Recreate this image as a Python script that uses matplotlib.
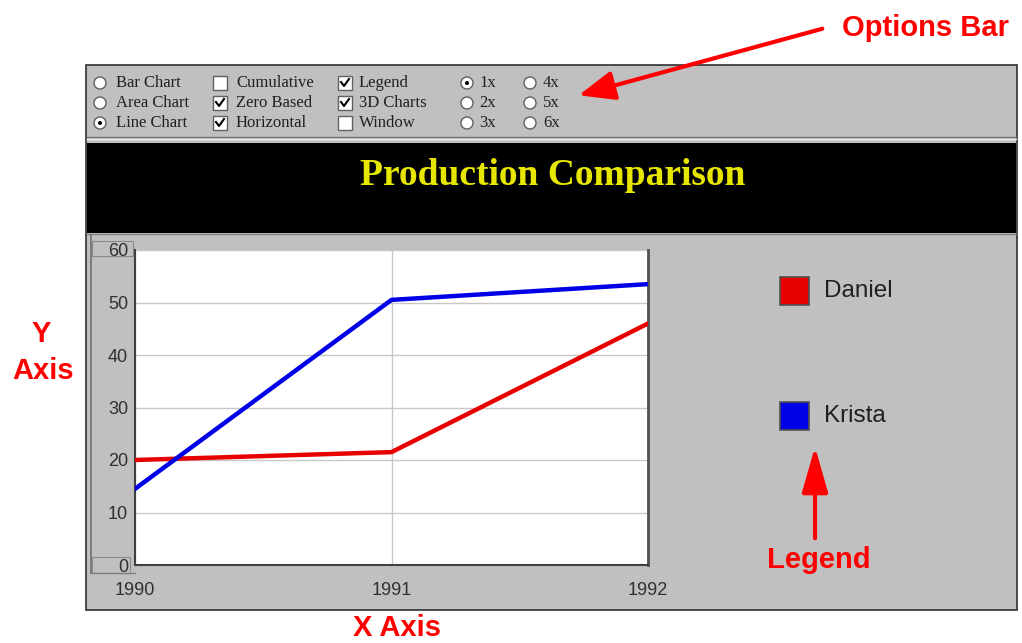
import matplotlib
matplotlib.use("Agg")
import matplotlib.pyplot as plt
from matplotlib.patches import Rectangle, Circle, FancyArrowPatch

# data
years = [1990, 1991, 1992]
daniel = [20, 21.5, 46]
krista = [14.5, 50.5, 53.5]
series_names = ["Daniel", "Krista"]
series_colors = ["#e80000", "#0000e8"]
y_ticks = [0, 10, 20, 30, 40, 50, 60]

# options bar
opt_col1 = ["Bar Chart", "Area Chart", "Line Chart"]
opt_col2 = ["Cumulative", "Zero Based", "Horizontal"]
opt_col3 = ["Legend", "3D Charts", "Window"]
opt_col4 = ["1x", "2x", "3x"]
opt_col5 = ["4x", "5x", "6x"]
col1_on = [False, False, True]
col2_on = [False, True, True]
col3_on = [True, True, False]
col4_on = [True, False, False]
col5_on = [False, False, False]

W, H = 1022, 643
GREY = "#c0c0c0"
fig = plt.figure(figsize=(W / 100, H / 100), dpi=100, facecolor="white")

# background layer in pixel coords (y down)
bg = fig.add_axes([0, 0, 1, 1])
bg.set_xlim(0, W)
bg.set_ylim(H, 0)
bg.axis("off")

bg.add_patch(Rectangle((86, 65), 931, 545, facecolor=GREY, edgecolor="#303030", lw=1.2))
bg.plot([87, 1016], [137, 137], color="#707070", lw=1)
bg.plot([87, 1016], [139, 139], color="#f0f0f0", lw=1)
bg.add_patch(Rectangle((87, 143), 929, 90, facecolor="black", edgecolor="none"))
bg.plot([87, 1016], [234, 234], color="#808080", lw=1)
bg.text(553, 185, "Production Comparison", color="#e6e600", fontsize=27,
        fontweight="bold", family="Liberation Serif", ha="center", va="baseline")


def radio(x, y, on):
    bg.add_patch(Circle((x, y), 6, facecolor="white", edgecolor="#606060", lw=1))
    if on:
        bg.add_patch(Circle((x, y), 2, facecolor="black", edgecolor="none"))


def check(x, y, on):
    bg.add_patch(Rectangle((x - 7, y - 7), 14, 14, facecolor="white", edgecolor="#606060", lw=1))
    if on:
        bg.plot([x - 4, x - 1, x + 4], [y - 1, y + 3, y - 4], color="black", lw=1.5)


rows_y = [83, 103, 123]
cols = [(opt_col1, col1_on, radio, 100, 116),
        (opt_col2, col2_on, check, 220, 236),
        (opt_col3, col3_on, check, 345, 359),
        (opt_col4, col4_on, radio, 467, 479),
        (opt_col5, col5_on, radio, 530, 543)]
for labels, states, widget, wx, tx in cols:
    for lab, on, y in zip(labels, states, rows_y):
        widget(wx, y, on)
        bg.text(tx, y, lab, fontsize=12, family="Liberation Serif", color="#202020",
                ha="left", va="center")

# 3D wall bits on the left of the plot
bg.plot([91, 91], [236, 573], color="#707070", lw=1.2)
bg.plot([91, 135], [573, 573], color="#808080", lw=1)
bg.add_patch(Rectangle((92, 241), 41, 15, facecolor="none", edgecolor="#8a8a8a", lw=0.8))
bg.add_patch(Rectangle((92, 557), 38, 16, facecolor="none", edgecolor="#8a8a8a", lw=0.8))

# legend
for name, col, yc in zip(series_names, series_colors, [291, 416]):
    bg.add_patch(Rectangle((780, yc - 14), 29, 28, facecolor=col, edgecolor="#505050", lw=1.2))
    bg.text(824, yc, name, fontsize=17.5, family="Liberation Sans", color="#202020",
            ha="left", va="center")

# red annotations
red = "#ff0000"
ann = dict(color=red, fontweight="bold", family="Liberation Sans", fontsize=21)
bg.text(926, 28, "Options Bar", ha="center", va="center", **ann)
bg.text(819, 560, "Legend", ha="center", va="center", **ann)
bg.text(41, 334, "Y", ha="center", va="center", **ann)
bg.text(43, 371, "Axis", ha="center", va="center", **ann)
bg.text(397, 628, "X Axis", ha="center", va="center", **ann)
bg.add_patch(FancyArrowPatch((825, 28), (576, 96), arrowstyle="-|>,head_length=2.2,head_width=0.9",
                             mutation_scale=10, color=red, lw=3, zorder=5))
bg.add_patch(FancyArrowPatch((815, 541), (815, 444), arrowstyle="-|>,head_length=2.8,head_width=0.8",
                             mutation_scale=10, color=red, lw=3, zorder=5))

# the chart itself
ax = fig.add_axes([135 / W, (H - 565) / H, 513 / W, 315 / H])
ax.set_facecolor("white")
ax.plot(years, daniel, color=series_colors[0], lw=3.2, solid_joinstyle="miter", zorder=3)
ax.plot(years, krista, color=series_colors[1], lw=3.2, solid_joinstyle="miter", zorder=3)
ax.set_xlim(1990, 1992)
ax.set_ylim(0, 60)
ax.set_xticks(years)
ax.set_xticklabels([str(y) for y in years])
ax.set_yticks(y_ticks)
ax.grid(True, color="#c8c8c8", lw=1)
ax.set_axisbelow(True)
ax.tick_params(axis="both", length=0, labelsize=13, labelcolor="#303030")
ax.tick_params(axis="y", pad=5)
ax.tick_params(axis="x", pad=12)
for lab in ax.get_xticklabels() + ax.get_yticklabels():
    lab.set_family("Liberation Sans")
ax.spines["top"].set_visible(False)
for s in ["left", "bottom"]:
    ax.spines[s].set_color("#404040")
    ax.spines[s].set_linewidth(1.5)
ax.spines["right"].set_color("#505050")
ax.spines["right"].set_linewidth(2)

fig.savefig("out.png", dpi=100, facecolor="white")
